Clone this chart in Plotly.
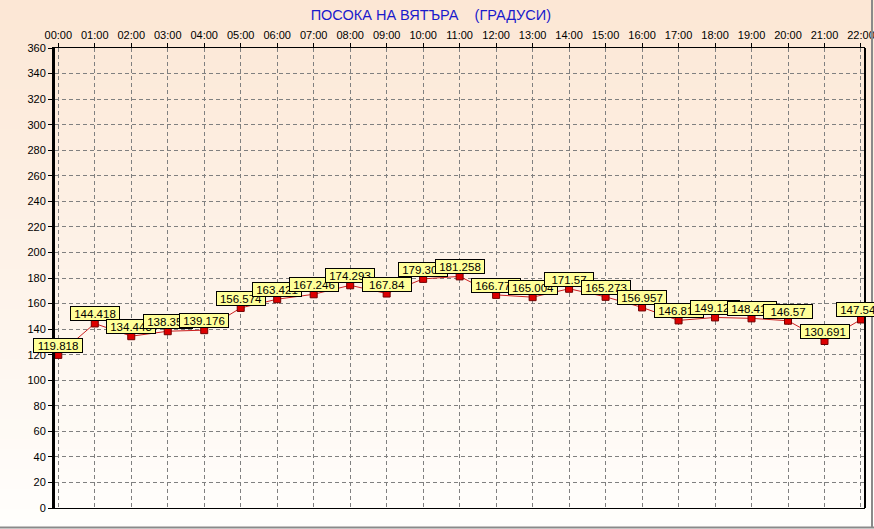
import plotly.graph_objects as go

hours = ["00:00", "01:00", "02:00", "03:00", "04:00", "05:00", "06:00", "07:00",
         "08:00", "09:00", "10:00", "11:00", "12:00", "13:00", "14:00", "15:00",
         "16:00", "17:00", "18:00", "19:00", "20:00", "21:00", "22:00"]
direction = [119.818, 144.418, 134.443, 138.352, 139.176, 156.574, 163.421, 167.246,
             174.293, 167.84, 179.303, 181.258, 166.771, 165.004, 171.57, 165.273,
             156.957, 146.812, 149.129, 148.413, 146.57, 130.691, 147.543]
y_ticks = list(range(0, 361, 20))

W, H = 874, 529
L, R, T, B = 55, 865, 48, 508

def px_x(px):
    return (px - L) / (R - L)

def px_y(py):
    return (B - py) / (B - T)

x_idx = list(range(len(hours)))

fig = go.Figure()
fig.add_trace(go.Scatter(
    x=x_idx, y=direction, mode="lines+markers",
    line=dict(color="#cc2020", width=1),
    marker=dict(symbol="square", size=7, color="#dd0000",
                line=dict(color="#700000", width=1)),
    hoverinfo="skip", showlegend=False,
))

annotations = []
for xi, v in zip(x_idx, direction):
    annotations.append(dict(
        x=xi, y=v, xref="x", yref="y", text=f"{v:g}", showarrow=False,
        xanchor="center", yanchor="bottom", yshift=2,
        bgcolor="#ffff99", bordercolor="#000000", borderwidth=1, borderpad=1,
        width=46, height=11, align="center",
        font=dict(family="Arial, Liberation Sans, sans-serif", size=11.5, color="#000000"),
    ))

shapes = []
top_c = (252, 231, 213)
bot_c = (255, 254, 252)
n = 53
for i in range(n):
    y0 = i * H / n
    y1 = (i + 1) * H / n + 1
    f = i / (n - 1)
    c = tuple(round(top_c[k] + (bot_c[k] - top_c[k]) * f) for k in range(3))
    shapes.append(dict(type="rect", xref="paper", yref="paper",
                       x0=px_x(0), x1=px_x(W), y0=px_y(y1), y1=px_y(y0),
                       fillcolor=f"rgb{c}", line=dict(width=0), layer="below"))
shapes.append(dict(type="line", xref="paper", yref="paper", x0=1, x1=1,
                   y0=0, y1=1, line=dict(color="#000000", width=2)))
shapes.append(dict(type="line", xref="paper", yref="paper",
                   x0=px_x(0), x1=px_x(W), y0=px_y(527.5), y1=px_y(527.5),
                   line=dict(color="#8a8a8a", width=2)))
shapes.append(dict(type="line", xref="paper", yref="paper",
                   x0=px_x(872), x1=px_x(872), y0=px_y(0), y1=px_y(528),
                   line=dict(color="#8a8a8a", width=2)))

fig.update_layout(
    width=W, height=H,
    margin=dict(l=L, r=W - R, t=T, b=H - B, pad=0, autoexpand=False),
    paper_bgcolor="#fef6ef",
    plot_bgcolor="rgba(0,0,0,0)",
    font=dict(family="Arial, Liberation Sans, sans-serif", size=11, color="#000000"),
    title=dict(text="ПОСОКА НА ВЯТЪРА\u00a0\u00a0\u00a0 (ГРАДУСИ)",
               xref="container", yref="container", x=0.493, xanchor="center",
               y=1 - 15 / H, yanchor="middle",
               font=dict(family="Arial, Liberation Sans, sans-serif", size=14.5, color="#1a1acc")),
    xaxis=dict(
        side="top", range=[-0.09, 22.11], tickmode="array", automargin=False,
        tickvals=x_idx, ticktext=hours, ticklabeloverflow="allow",
        showgrid=True, gridcolor="#808080", griddash="4px,3px", gridwidth=1,
        showline=True, linecolor="#000000", linewidth=1, mirror=True,
        ticks="outside", ticklen=4, tickcolor="#000000",
        tickfont=dict(size=11, color="#000000"), zeroline=False, fixedrange=True,
    ),
    yaxis=dict(
        range=[0, 360], tickmode="array", tickvals=y_ticks, automargin=False,
        ticktext=[str(t) for t in y_ticks],
        showgrid=True, gridcolor="#808080", griddash="4px,3px", gridwidth=1,
        showline=True, linecolor="#000000", linewidth=3,
        ticks="outside", ticklen=4, tickcolor="#000000",
        tickfont=dict(size=11, color="#000000"), zeroline=False, fixedrange=True,
    ),
    shapes=shapes,
    annotations=annotations,
)

fig.write_html(
    "out.html",
    config={"displayModeBar": False, "staticPlot": True},
    post_script="document.body.style.margin='0';document.body.style.padding='0';"
                "document.body.style.overflow='hidden';",
)
